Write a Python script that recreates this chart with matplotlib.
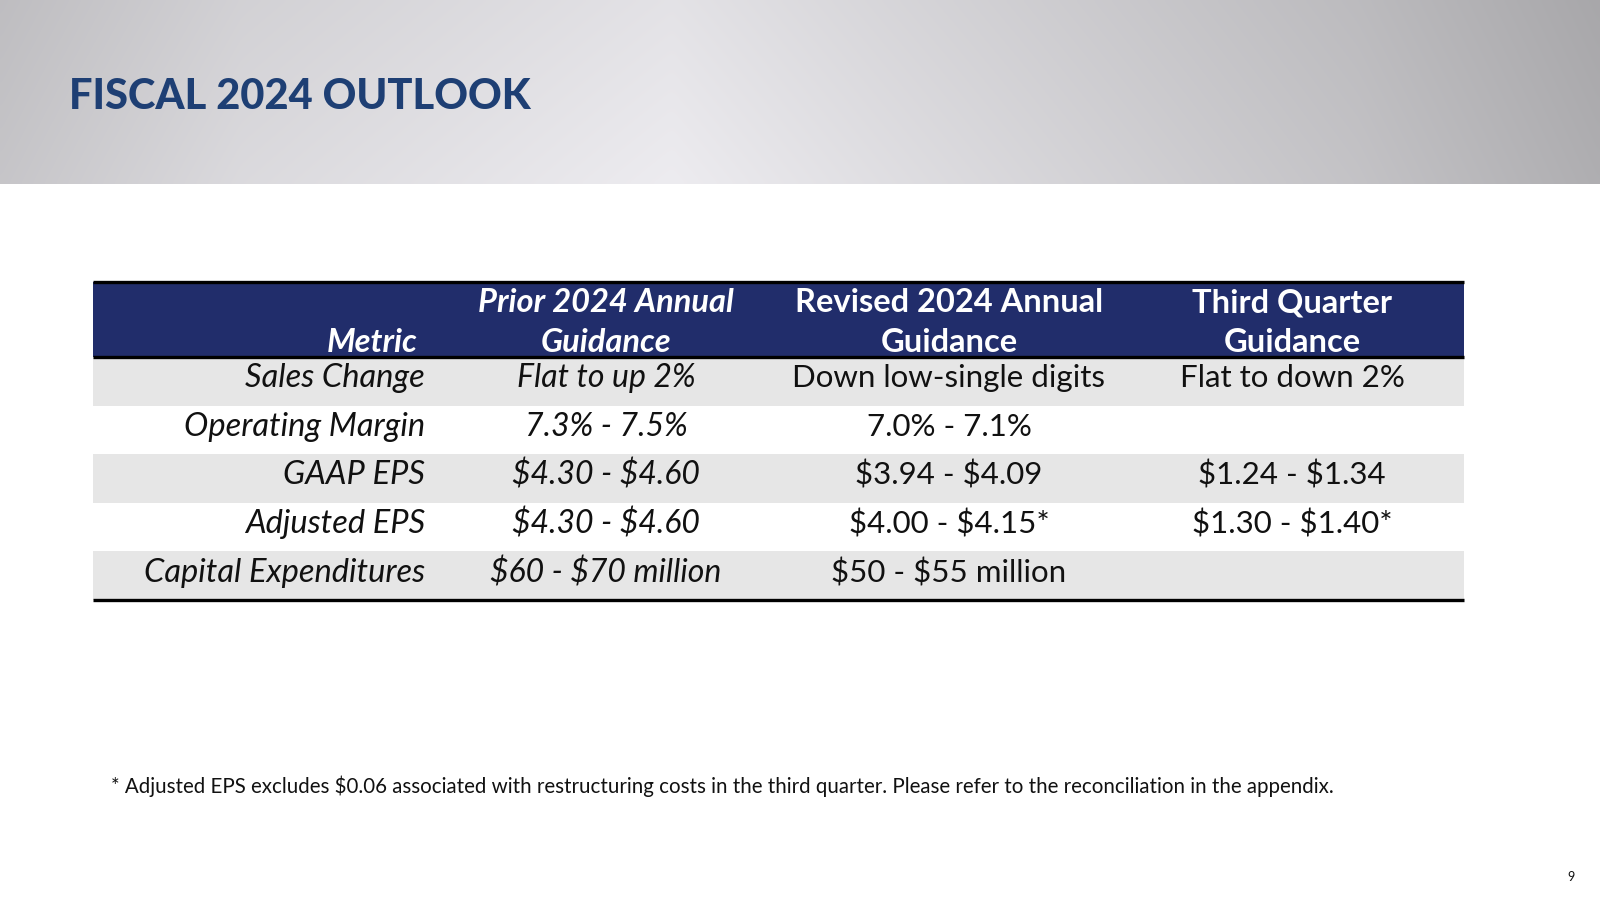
import matplotlib.pyplot as plt
import numpy as np

title = "FISCAL 2024 OUTLOOK"
header_top = ["", "Prior 2024 Annual", "Revised 2024 Annual", "Third Quarter"]
header_bottom = ["Metric", "Guidance", "Guidance", "Guidance"]
metrics = ["Sales Change", "Operating Margin", "GAAP EPS", "Adjusted EPS", "Capital Expenditures"]
prior = ["Flat to up 2%", "7.3% - 7.5%", "$4.30 - $4.60", "$4.30 - $4.60", "$60 - $70 million"]
revised = ["Down low-single digits", "7.0% - 7.1%", "$3.94 - $4.09", "$4.00 - $4.15*", "$50 - $55 million"]
third_q = ["Flat to down 2%", "", "$1.24 - $1.34", "$1.30 - $1.40*", ""]
footnote = ("* Adjusted EPS excludes \\$0.06 associated with restructuring costs in the third quarter. "
            "Please refer to the reconciliation in the appendix.")
page_num = "9"

NAVY = "#212d6b"
TITLE_BLUE = "#1e3f74"
ROW_GRAY = "#e6e6e6"
FONT = "Lato"

plt.rcParams["font.family"] = [FONT, "DejaVu Sans"]

fig = plt.figure(figsize=(16, 9), dpi=100)
ax = fig.add_axes([0, 0, 1, 1])
ax.set_xlim(0, 1600)
ax.set_ylim(900, 0)
ax.axis("off")

# header band: soft grey gradient, lighter in the middle
xs = np.linspace(0, 1, 400)
stops_x = [0.0, 0.15, 0.42, 0.55, 0.85, 1.0]
stops_v = [0.77, 0.85, 0.92, 0.87, 0.76, 0.68]
row = np.interp(xs, stops_x, stops_v)
ys = np.linspace(0, 1, 60)[:, None]
shade = np.clip(row[None, :] * (0.97 + 0.04 * ys), 0, 1)
img = np.dstack([shade, shade * 0.995, np.clip(shade * 1.012, 0, 1)])
ax.imshow(img, extent=(0, 1600, 184, 0), aspect="auto", interpolation="bicubic", zorder=0)

ax.text(69, 97, title, fontsize=30, fontweight="black", color=TITLE_BLUE,
        ha="left", va="center", zorder=2)

# table geometry
x0, x1 = 93, 1464
head_top, head_bot = 282, 357
row_h = 48.6
col_x = [425, 606, 949, 1292]
col_ha = ["right", "center", "center", "center"]
head_style = ["italic", "italic", "normal", "normal"]
body_style = ["italic", "italic", "normal", "normal"]
body_size = [23.5, 23, 22.5, 22.5]

ax.barh([(head_top + head_bot) / 2], [x1 - x0], left=x0, height=head_bot - head_top,
        color=NAVY, zorder=1)
n = len(metrics)
row_centers = [head_bot + row_h * (i + 0.5) for i in range(n)]
ax.barh(row_centers, [x1 - x0] * n, left=x0, height=row_h,
        color=[ROW_GRAY if i % 2 == 0 else "white" for i in range(n)], zorder=1)
table_bot = head_bot + row_h * n
ax.hlines([head_top, head_bot, table_bot], x0, x1, color="black", lw=2.4, zorder=3)

for j in range(4):
    hx = col_x[j] - (7 if j == 0 else 0)
    ax.text(hx, 303, header_top[j], color="white", fontsize=23.5,
            fontweight="bold", fontstyle=head_style[j], ha=col_ha[j], va="center", zorder=4)
    ax.text(hx, 342, header_bottom[j], color="white", fontsize=23.5,
            fontweight="bold", fontstyle=head_style[j], ha=col_ha[j], va="center", zorder=4)

columns = [metrics, prior, revised, third_q]
for j, col in enumerate(columns):
    for i, val in enumerate(col):
        ax.text(col_x[j], row_centers[i] - 3, val.replace("$", "\\$"), color="#111111",
                fontsize=body_size[j], fontstyle=body_style[j], ha=col_ha[j], va="center",
                zorder=4)

ax.text(111, 786, footnote, fontsize=14.8, color="#111111", ha="left", va="center")
ax.text(1571, 877, page_num, fontsize=9, color="#111111", ha="center", va="center")

fig.savefig("out.png", dpi=100)
